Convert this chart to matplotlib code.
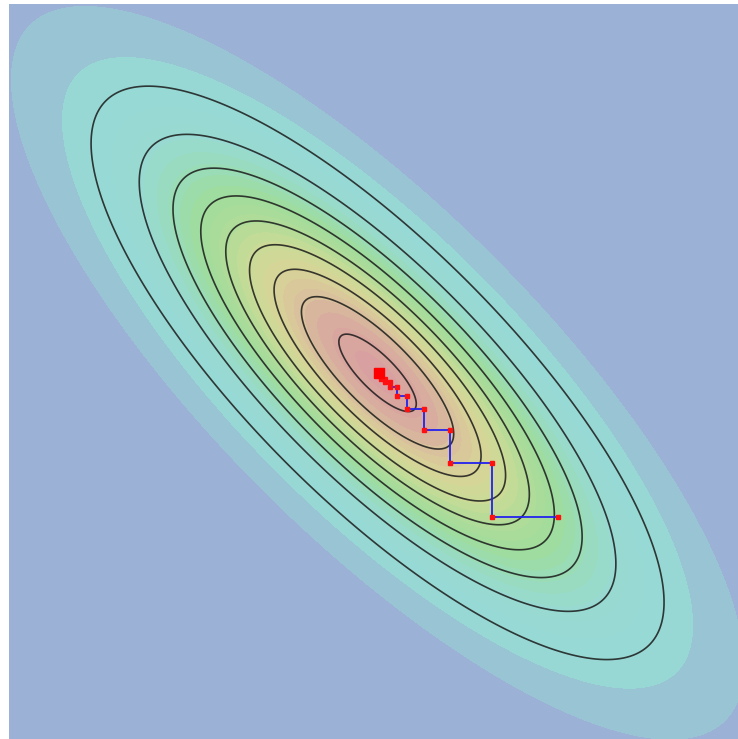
import numpy as np
import matplotlib
matplotlib.use("Agg")
import matplotlib.pyplot as plt
from matplotlib.colors import LinearSegmentedColormap

# ─────────────────────────────────────────────
# Data
# ─────────────────────────────────────────────

# Target distribution: correlated 2D Gaussian (unit variances)
MEAN = [0.0, 0.0]
SIGMA = 1.0
RHO = -0.8

# Visible window of the plane
X_RANGE = (-2.72, 2.66)
Y_RANGE = (-2.70, 2.72)

# Contour levels, as fractions of the peak density
LINE_LEVELS = [0.107, 0.213, 0.320, 0.427, 0.534, 0.640, 0.747, 0.854, 0.960]
FILL_LEVELS = [0.0, 0.026, 0.067, 0.107, 0.147, 0.187, 0.227, 0.267, 0.307,
               0.347, 0.387, 0.427, 0.467, 0.507, 0.547, 0.587, 0.627,
               0.667, 0.707, 0.747, 0.787, 0.827, 0.867, 0.907, 0.947,
               0.987, 1.01]

# Sampler path (alternating x / y updates)
PATH_X = [1.332, 0.841, 0.841, 0.535, 0.535, 0.339, 0.339, 0.218, 0.218,
          0.144, 0.144, 0.092, 0.092, 0.055, 0.055, 0.026, 0.026]
PATH_Y = [-1.066, -1.066, -0.668, -0.668, -0.424, -0.424, -0.269, -0.269,
          -0.173, -0.173, -0.107, -0.107, -0.070, -0.070, -0.048, -0.048,
          -0.030]
FINAL = (0.011, -0.004)

# ─────────────────────────────────────────────
# Colours
# ─────────────────────────────────────────────

CMAP = LinearSegmentedColormap.from_list("soft_rainbow", [
    (0.00, "#9DACD6"),
    (0.03, "#99BAD3"),
    (0.07, "#97D8D5"),
    (0.22, "#98DAD2"),
    (0.32, "#9ADCB8"),
    (0.42, "#9EDC9C"),
    (0.55, "#B4DC98"),
    (0.65, "#CCDA96"),
    (0.75, "#D8D498"),
    (0.85, "#D8C09C"),
    (0.93, "#D8AC9E"),
    (1.00, "#D8A0A0"),
])

# ─────────────────────────────────────────────
# Density grid
# ─────────────────────────────────────────────

cov = SIGMA ** 2 * np.array([[1.0, RHO], [RHO, 1.0]])
prec = np.linalg.inv(cov)

gx = np.linspace(X_RANGE[0], X_RANGE[1], 500)
gy = np.linspace(Y_RANGE[0], Y_RANGE[1], 500)
X, Y = np.meshgrid(gx, gy)
dx = X - MEAN[0]
dy = Y - MEAN[1]
Z = np.exp(-0.5 * (prec[0, 0] * dx**2 + 2 * prec[0, 1] * dx * dy + prec[1, 1] * dy**2))

# ─────────────────────────────────────────────
# Plot
# ─────────────────────────────────────────────

fig = plt.figure(figsize=(7.38, 7.39), dpi=100)
ax = fig.add_axes([9 / 738, 0, 729 / 738, 735 / 739])

ax.contourf(X, Y, Z, levels=FILL_LEVELS, cmap=CMAP, vmin=0, vmax=1)
ax.contour(X, Y, Z, levels=LINE_LEVELS, colors="#1a1a1a", linewidths=1.2, alpha=0.85)

ax.plot(PATH_X, PATH_Y, color="#2222ee", linewidth=1.3, zorder=3)
ax.plot(PATH_X, PATH_Y, linestyle="none", marker="s", markersize=3.2,
        color="#ff1010", zorder=4)
ax.plot(*FINAL, marker="s", markersize=6.5, color="#ff0000", zorder=5)

ax.set_xlim(*X_RANGE)
ax.set_ylim(*Y_RANGE)
ax.axis("off")

fig.savefig("out.png", dpi=100)
